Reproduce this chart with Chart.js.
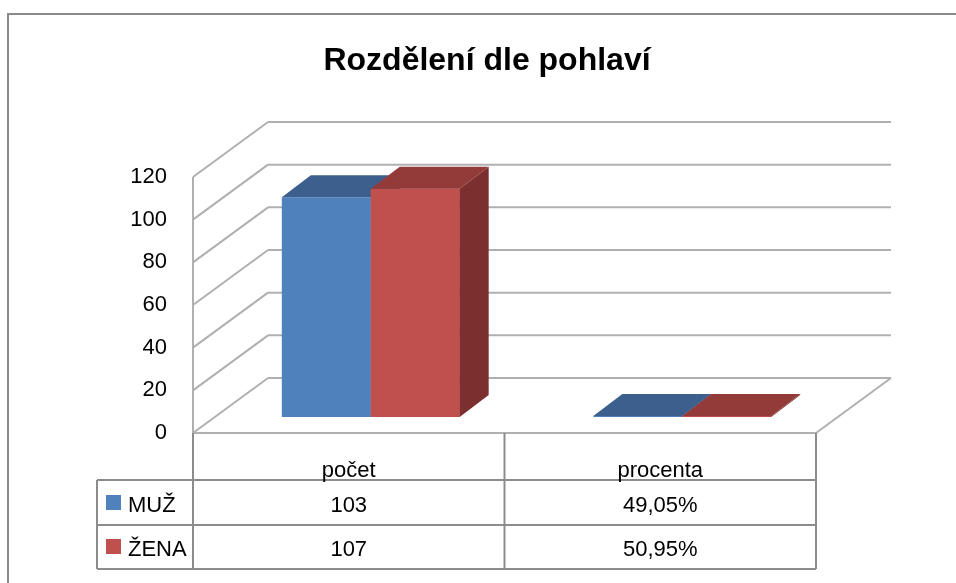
<!DOCTYPE html>
<html lang="cs">
<head>
<meta charset="UTF-8">
<title>Rozdělení dle pohlaví</title>
<style>
  html,body{margin:0;padding:0;background:#fff}
  canvas{display:block}
</style>
</head>
<body>
<canvas id="graf" width="956" height="583"></canvas>
<script src="https://cdn.jsdelivr.net/npm/chart.js"></script>
<script>
const titulek = 'Rozdělení dle pohlaví'
const kategorie = ['počet', 'procenta']
const serie = ['MUŽ', 'ŽENA']
const muz = [103, 0.4905]
const zena = [107, 0.5095]
const muzText = ['103', '49,05%']
const zenaText = ['107', '50,95%']
const yMin = 0, yMax = 120, yKrok = 20

const barvy = ['#4F81BD', '#C0504D']
const barvyVrch = ['#3C5F8D', '#933B38']
const barvyBok = ['#34547C', '#7B2F2E']

const font = '"Liberation Sans", Arial, sans-serif'

// posun rovin (pixely): predni rovina -> rovina sloupcu -> zadni stena
const DX = 22, DY = 16
const BX = 53, BY = 39
const HX = 29, HY = 22 // hloubka sloupce

function line(c, x1, y1, x2, y2) {
  c.beginPath(); c.moveTo(x1, y1); c.lineTo(x2, y2); c.stroke()
}

const plugin3d = {
  id: 'plugin3d',
  beforeDraw(chart) {
    const c = chart.ctx
    c.save()
    c.fillStyle = '#fff'
    c.fillRect(0, 0, chart.width, chart.height)
    c.strokeStyle = '#8a8a8a'
    c.lineWidth = 2
    c.strokeRect(8, 14, chart.width + 40, chart.height + 40)
    c.fillStyle = '#000'
    c.font = 'bold 32px ' + font
    c.textAlign = 'center'
    c.textBaseline = 'alphabetic'
    c.fillText(titulek, 487, 70)
    c.restore()
  },
  beforeDatasetsDraw(chart) {
    const c = chart.ctx, a = chart.chartArea, y = chart.scales.y
    const fl = a.left - DX, fr = a.right - DX, bl = a.left + BX, br = a.right + BX
    c.save()
    c.strokeStyle = '#b0b0b0'
    c.lineWidth = 2
    y.ticks.forEach(t => {
      const p = y.getPixelForValue(t.value)
      line(c, fl, p + DY, bl, p - BY)
      line(c, bl, p - BY, br, p - BY)
    })
    const y0 = y.getPixelForValue(yMin), yT = y.getPixelForValue(yMax)
    line(c, fl, y0 + DY, fl, yT + DY)
    line(c, fl, y0 + DY, fr, y0 + DY)
    line(c, fr, y0 + DY, br, y0 - BY)
    c.restore()
  },
  afterDatasetsDraw(chart) {
    // boky a vrchy sloupcu, zleva doprava; predni stenu dalsi serie kreslime znovu
    const c = chart.ctx
    c.save()
    chart.data.datasets.forEach((ds, i) => {
      const meta = chart.getDatasetMeta(i)
      meta.data.forEach(b => {
        if (i > 0) b.draw(c)
        const l = b.x - b.width / 2, r = b.x + b.width / 2
        const t = Math.min(b.y, b.base), d = Math.max(b.y, b.base)
        c.fillStyle = barvyBok[i]
        c.beginPath()
        c.moveTo(r, t); c.lineTo(r + HX, t - HY); c.lineTo(r + HX, d - HY); c.lineTo(r, d)
        c.closePath(); c.fill()
        c.fillStyle = barvyVrch[i]
        c.beginPath()
        c.moveTo(l, t); c.lineTo(l + HX, t - HY); c.lineTo(r + HX, t - HY); c.lineTo(r, t)
        c.closePath(); c.fill()
      })
    })
    c.restore()
  },
  afterDraw(chart) {
    const c = chart.ctx, a = chart.chartArea, x = chart.scales.x, y = chart.scales.y
    const fl = a.left - DX, fr = a.right - DX
    const top = y.getPixelForValue(yMin) + DY
    const rows = [480, 525, 569], tl = 97
    c.save()
    c.strokeStyle = '#8c8c8c'
    c.lineWidth = 2
    const sep = [fl]
    for (let k = 0; k < kategorie.length; k++) sep.push(x.getPixelForValue(k + 0.5) - DX)
    sep.forEach(s => line(c, s, top, s, rows[2]))
    line(c, tl, rows[0], tl, rows[2])
    rows.forEach(r => line(c, tl, r, fr, r))

    c.fillStyle = '#000'
    c.font = '22px ' + font
    c.textAlign = 'center'
    c.textBaseline = 'alphabetic'
    kategorie.forEach((k, j) => {
      const cx = x.getPixelForValue(j) - DX
      c.fillText(k, cx, 477)
      c.fillText(muzText[j], cx, 512)
      c.fillText(zenaText[j], cx, 556)
    })
    const base = [512, 556]
    serie.forEach((s, j) => {
      c.fillStyle = barvy[j]
      c.fillRect(106, base[j] - 17, 15, 15)
      c.fillStyle = '#000'
      c.textAlign = 'left'
      c.fillText(s, 128, base[j])
    })
    c.restore()
  }
}

new Chart(document.getElementById('graf'), {
  type: 'bar',
  data: {
    labels: kategorie,
    datasets: [
      { label: serie[0], data: muz, backgroundColor: barvy[0] },
      { label: serie[1], data: zena, backgroundColor: barvy[1] }
    ]
  },
  options: {
    responsive: false,
    animation: false,
    devicePixelRatio: 1,
    layout: { padding: { left: 0, top: 161, right: 118, bottom: 166 } },
    datasets: { bar: { categoryPercentage: 0.571, barPercentage: 1, borderWidth: 0 } },
    plugins: { legend: { display: false }, title: { display: false }, tooltip: { enabled: false } },
    scales: {
      x: { display: false },
      y: {
        min: yMin, max: yMax,
        afterFit: s => { s.width = 215 },
        grid: { display: false, drawTicks: false },
        border: { display: false },
        ticks: { stepSize: yKrok, padding: 48, labelOffset: 16, color: '#000', font: { family: font, size: 22 } }
      }
    }
  },
  plugins: [plugin3d]
})
</script>
</body>
</html>
